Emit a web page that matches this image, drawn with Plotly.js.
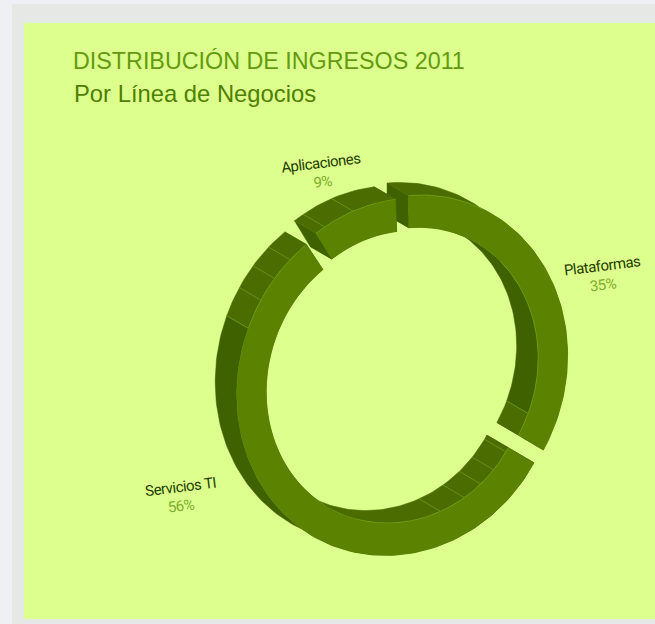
<!DOCTYPE html>
<html>
<head>
<meta charset="utf-8">
<script src="https://cdn.plot.ly/plotly-3.0.1.min.js"></script>
<style>html,body{margin:0;padding:0;background:#eef0f3;overflow:hidden}#c{width:655px;height:624px}
.ringlabel{letter-spacing:-0.5px}</style>
</head>
<body>
<div id="c"></div>
<script>
// --- data ---
var categories = ["Plataformas", "Servicios TI", "Aplicaciones"];
var shares = [35, 56, 9];
var shareLabels = ["35%", "56%", "9%"];
var labelX = [601.5, 180, 321];
var labelY = [266, 487, 163];
var titleText = "DISTRIBUCIÓN DE INGRESOS 2011";
var subtitleText = "Por Línea de Negocios";

// --- look ---
var FRONT = "#5b8200", WALL_LIGHT = "#4a6c00", WALL_DARK = "#3f6100", SEAM = "#7ba81a";
var PANEL = "#dcff8d", BAND = "#e6e8e6", PAGE = "#eef0f3";
var cx = 401.5, cy = 374, rx = 159, ry = 174.5, rho = -0.08, hole = 0.815;
var explode = [0.05, 0.05, 0.008], backX = -21.5, backY = -12.5, startAngle = -90;
var trimStart = [0, 0, 0.4], trimEnd = [0, 1.4, 2];
var bulge = [0, 0.025, 0], bulgeAt = 32;
var outerSeams = [[], [202, 212, 220.4, 228.4], [241.3, 252.4]];
var innerSeams = [[22.6], [33.9, 42.4, 50, 58.6, 70], []];
var outerDarkUntil = [0, 202, 0];
var innerDarkUntil = [22.6, 0, 0];
var innerEdge = [[-45, 36], [32, 108], [0, 0]];
var outerEdge = [[-90, -62], [202, 238], [236, 270]];

var rad = Math.PI / 180, sigma = Math.sqrt(1 - rho * rho);
function warp(t) { return t - 2.5 * (1 + Math.sin(t * rad)); }
function pt(t, r, i, mid, back) {
  var c = Math.max(0, Math.cos((t - bulgeAt) * rad));
  var rr = r * (1 + bulge[i] * c * c * c);
  var ux = rr * Math.cos(t * rad) + explode[i] * Math.cos(mid * rad);
  var uy = rr * Math.sin(t * rad) + explode[i] * Math.sin(mid * rad);
  return [cx + rx * ux + (back ? backX : 0), cy + ry * (rho * ux + sigma * uy) + (back ? backY : 0)];
}
function arc(a, b, r, i, mid, back) {
  var out = [], n = Math.max(2, Math.ceil(Math.abs(b - a) / 1.5));
  for (var k = 0; k <= n; k++) out.push(pt(a + (b - a) * k / n, r, i, mid, back));
  return out;
}
var traces = [];
function poly(points, fill, line, width) {
  var xs = points.map(function (p) { return p[0]; }), ys = points.map(function (p) { return p[1]; });
  if (fill) { xs.push(xs[0]); ys.push(ys[0]); }
  traces.push({
    type: "scatter", mode: "lines", x: xs, y: ys, hoverinfo: "skip", showlegend: false,
    fill: fill ? "toself" : "none", fillcolor: fill || undefined,
    line: { color: line || fill, width: width === undefined ? 0.5 : width }
  });
}
function wall(a, b, r, i, mid, color) {
  if (b <= a) return;
  poly(arc(a, b, r, i, mid, false).concat(arc(a, b, r, i, mid, true).reverse()), color);
}
function seam(t, r, i, mid) { poly([pt(t, r, i, mid, false), pt(t, r, i, mid, true)], null, SEAM, 0.6); }

var cum = 0;
shares.forEach(function (share, i) {
  var raw0 = startAngle + cum * 3.6, raw1 = startAngle + (cum + share) * 3.6;
  cum += share;
  var a = warp(raw0) + trimStart[i], b = warp(raw1) - trimEnd[i], mid = (raw0 + raw1) / 2;
  // inner wall
  var id = Math.max(a, Math.min(b, innerDarkUntil[i]));
  if (innerDarkUntil[i]) { wall(a, id, hole, i, mid, WALL_DARK); wall(id, b, hole, i, mid, WALL_LIGHT); }
  else wall(a, b, hole, i, mid, WALL_LIGHT);
  innerSeams[i].forEach(function (t) { seam(t, hole, i, mid); });
  // end caps
  poly([pt(a, 1, i, mid, false), pt(a, hole, i, mid, false), pt(a, hole, i, mid, true), pt(a, 1, i, mid, true)], WALL_DARK);
  poly([pt(b, 1, i, mid, false), pt(b, hole, i, mid, false), pt(b, hole, i, mid, true), pt(b, 1, i, mid, true)], WALL_DARK);
  // outer wall
  var od = Math.max(a, Math.min(b, outerDarkUntil[i]));
  if (outerDarkUntil[i]) { wall(a, od, 1, i, mid, WALL_DARK); wall(od, b, 1, i, mid, WALL_LIGHT); }
  else wall(a, b, 1, i, mid, WALL_LIGHT);
  outerSeams[i].forEach(function (t) { seam(t, 1, i, mid); });
  // front face
  poly(arc(a, b, 1, i, mid, false).concat(arc(a, b, hole, i, mid, false).reverse()), FRONT);
  // light edge where the front face meets a wall
  if (innerEdge[i][1] > innerEdge[i][0]) poly(arc(Math.max(a, innerEdge[i][0]), Math.min(b, innerEdge[i][1]), hole, i, mid, false), null, SEAM, 0.5);
  poly(arc(Math.max(a, outerEdge[i][0]), Math.min(b, outerEdge[i][1]), 1, i, mid, false), null, SEAM, 0.5);
});

var annotations = [{
  xref: "x", yref: "y", x: 71.5, y: 93.5, xanchor: "left", yanchor: "middle", showarrow: false,
  text: subtitleText, font: { family: "Liberation Sans", size: 23.8, color: "#4f8000" }
}];
categories.forEach(function (name, i) {
  annotations.push({
    xref: "x", yref: "y", x: labelX[i], y: labelY[i], xanchor: "center", yanchor: "middle", showarrow: false,
    textangle: -7, text: name, font: { family: "Roboto", size: 15, color: "#253d00" }
  });
  annotations.push({
    xref: "x", yref: "y", x: labelX[i] + 1, y: labelY[i] + 19, xanchor: "center", yanchor: "middle", showarrow: false,
    textangle: -7, text: shareLabels[i], font: { family: "Roboto", size: 15, color: "#7fae2c" }
  });
});

Plotly.newPlot("c", traces, {
  width: 655, height: 624, margin: { l: 0, r: 0, t: 0, b: 0 },
  paper_bgcolor: PAGE, plot_bgcolor: "rgba(0,0,0,0)", showlegend: false,
  title: {
    text: titleText, x: 73 / 655, xanchor: "left", xref: "paper", y: 1 - 60.5 / 624, yanchor: "middle", yref: "paper",
    font: { family: "Liberation Sans", size: 23.3, color: "#659a10" }
  },
  xaxis: { range: [0, 655], visible: false, fixedrange: true },
  yaxis: { range: [624, 0], visible: false, fixedrange: true },
  shapes: [
    { type: "rect", layer: "below", xref: "x", yref: "y", x0: 12, x1: 655, y0: 4, y1: 624, fillcolor: BAND, line: { width: 0 } },
    { type: "rect", layer: "below", xref: "x", yref: "y", x0: 24, x1: 655, y0: 23, y1: 619, fillcolor: PANEL, line: { width: 0 } }
  ],
  annotations: annotations
}, { displayModeBar: false, staticPlot: true }).then(function (gd) {
  gd.querySelectorAll(".annotation-text").forEach(function (el) {
    if (el.textContent !== subtitleText) el.classList.add("ringlabel");
  });
});
</script>
</body>
</html>
